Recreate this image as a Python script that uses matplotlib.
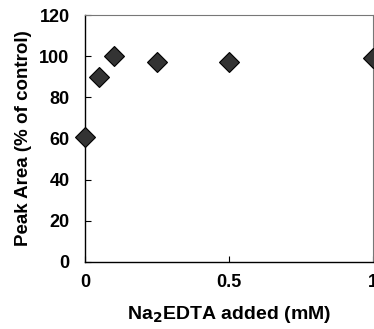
import matplotlib
matplotlib.use("Agg")
import matplotlib.pyplot as plt

# EDTA concentration (mM) and peak area (% of control)
edta_mM = [0, 0.05, 0.1, 0.25, 0.5, 1.0]
peak_area = [60.5, 90, 100, 97, 97, 99]

x_ticks = [0, 0.5, 1]
x_tick_labels = ["0", "0.5", "1"]
y_ticks = [0, 20, 40, 60, 80, 100, 120]

plt.rcParams['font.family'] = ['Liberation Sans', 'DejaVu Sans']
plt.rcParams['font.weight'] = 'bold'

fig = plt.figure(figsize=(3.74, 3.29), dpi=100)
ax = fig.add_axes([0.227, 0.204, 0.770, 0.750])

ax.plot(edta_mM, peak_area, linestyle='none', marker='D', markersize=10,
        markerfacecolor='#333333', markeredgecolor='black', markeredgewidth=0.8,
        clip_on=False, zorder=5)

ax.set_xlim(0, 1)
ax.set_ylim(0, 120)
ax.set_xticks(x_ticks)
ax.set_xticklabels(x_tick_labels)
ax.set_yticks(y_ticks)
ax.tick_params(axis='both', direction='in', length=4, width=0.8, labelsize=13)
ax.tick_params(axis='x', pad=9)
ax.tick_params(axis='y', pad=11)
for lbl in ax.get_xticklabels() + ax.get_yticklabels():
    lbl.set_fontweight('bold')

for side in ['left', 'bottom']:
    ax.spines[side].set_color('black')
    ax.spines[side].set_linewidth(1.0)
for side in ['top', 'right']:
    ax.spines[side].set_color('#777777')
    ax.spines[side].set_linewidth(0.8)

ax.set_xlabel("Na$_\\mathbf{2}$EDTA added (mM)", fontsize=14, fontweight='bold', labelpad=9)
ax.set_ylabel("Peak Area (% of control)", fontsize=13.5, fontweight='bold', labelpad=5)

fig.savefig("out.png", dpi=100)
